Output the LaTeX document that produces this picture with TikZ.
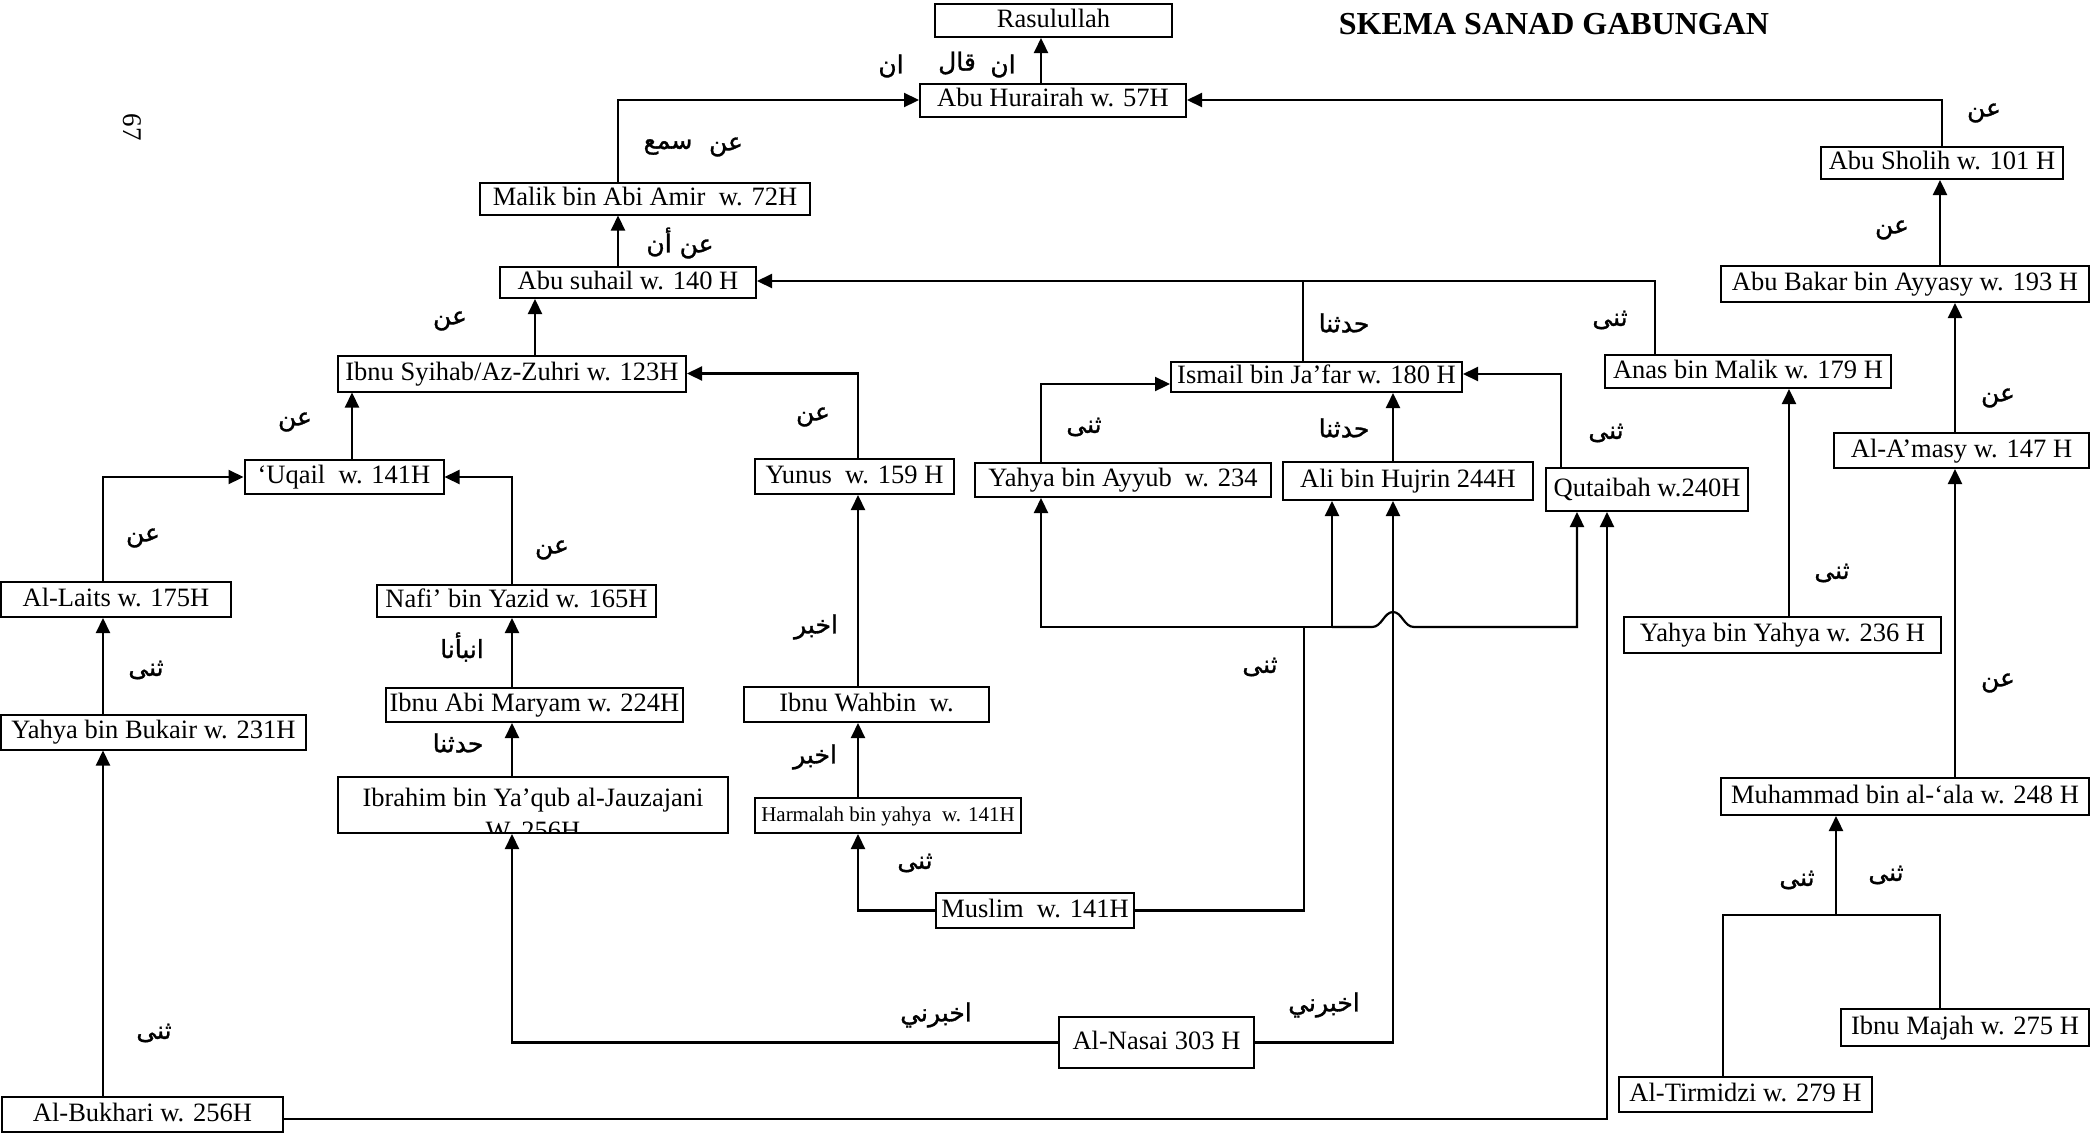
\documentclass[tikz,border=0pt]{standalone}
\usepackage{fontspec}
\setmainfont{Liberation Serif}
\newfontfamily\arabicfont[Script=Arabic,FakeBold=1.2]{DejaVu Sans}
\TeXXeTstate=1
\usetikzlibrary{arrows.meta,calc}
\newcommand{\artxt}[1]{\arabicfont\beginR #1\endR}
\begin{document}
\begin{tikzpicture}[x=1pt,y=-1pt,
  box/.style={draw, line width=2pt, inner sep=0pt, font=\fontsize{26.5}{30}\selectfont, text height=18pt, text depth=5pt},
  sz/.style 2 args={minimum width=#1pt, minimum height=#2pt},
  conn/.style={line width=2.2pt},
  arr/.style={conn, -{Triangle[length=15pt,width=14pt]}},
  lab/.style={inner sep=0pt, font=\fontsize{25}{28}\selectfont}]
\useasboundingbox (0,0) rectangle (2095,1133);

% title and page number
\node[font=\bfseries\fontsize{32}{36}\selectfont] (title) at (1554,24) {SKEMA SANAD GABUNGAN};
\node[font=\fontsize{27}{29}\selectfont, rotate=-90] (pagenum) at (132,127) {67};

% boxes
\node[box, sz={237}{33}] (rasul) at (1053.5,20.5) {Rasulullah};
\node[box, sz={266}{33}] (hurairah) at (1053,100) {Abu Hurairah w. 57H};
\node[box, sz={330}{32}] (malik) at (645,198.5) {Malik bin Abi Amir\ \ w. 72H};
\node[box, sz={256}{31}] (suhail) at (628,282.5) {Abu suhail w. 140 H};
\node[box, sz={348}{36}] (syihab) at (512,373.5) {Ibnu Syihab/Az-Zuhri w. 123H};
\node[box, sz={199}{34}] (uqail) at (344,477) {‘Uqail\ \ w. 141H};
\node[box, sz={230}{35}] (laits) at (116,599.5) {Al-Laits w. 175H};
\node[box, sz={305}{35}] (bukair) at (153.5,732) {Yahya bin Bukair w. 231H};
\node[box, sz={279}{32}] (nafi) at (516.5,601) {Nafi’ bin Yazid w. 165H};
\node[box, sz={297}{34}] (maryam) at (534.5,705) {Ibnu Abi Maryam w. 224H};
\node[box, sz={390}{56}] (ibr) at (533,805) {};
\begin{scope}
  \clip ($(ibr.south west)+(1,-1)$) rectangle ($(ibr.north east)+(-1,1)$);
  \node[font=\fontsize{26.5}{30}\selectfont, anchor=base, inner sep=0pt] (ibrA) at (533,806) {Ibrahim bin Ya’qub al-Jauzajani};
  \node[font=\fontsize{26.5}{30}\selectfont, anchor=base, inner sep=0pt] (ibrB) at (533,839) {W. 256H};
\end{scope}
\node[box, sz={199}{35}] (yunus) at (854.5,476.5) {Yunus\ \ w. 159 H};
\node[box, sz={245}{35}] (wahbin) at (866.5,704.5) {Ibnu Wahbin\ \ w.};
\node[box, sz={266}{35}, font=\fontsize{21}{24}\selectfont, text height=15pt, text depth=4pt] (harmalah) at (888,815.5) {Harmalah bin yahya\ \ w. 141H};
\node[box, sz={198}{35}] (muslim) at (1035,910.5) {Muslim\ \ w. 141H};
\node[box, sz={296}{34}] (ayyub) at (1123,480) {Yahya bin Ayyub\ \ w. 234};
\node[box, sz={250}{38}] (ali) at (1408,481) {Ali bin Hujrin 244H};
\node[box, sz={291}{30}] (ismail) at (1316.5,377) {Ismail bin Ja’far w. 180 H};
\node[box, sz={202}{43}] (qutaibah) at (1647,489.5) {Qutaibah w.240H};
\node[box, sz={286}{33}] (anas) at (1748,371.5) {Anas bin Malik w. 179 H};
\node[box, sz={242}{32}] (sholih) at (1942,163) {Abu Sholih w. 101 H};
\node[box, sz={368}{36}] (bakar) at (1905,284) {Abu Bakar bin Ayyasy w. 193 H};
\node[box, sz={255}{35}] (amasy) at (1961.5,450.5) {Al-A’masy w. 147 H};
\node[box, sz={317}{36}] (yyahya) at (1782.5,635) {Yahya bin Yahya w. 236 H};
\node[box, sz={368}{37}] (muhammad) at (1905,796.5) {Muhammad bin al-‘ala w. 248 H};
\node[box, sz={248}{37}] (majah) at (1965,1027.5) {Ibnu Majah w. 275 H};
\node[box, sz={253}{35}] (tirmidzi) at (1745.5,1094.5) {Al-Tirmidzi w. 279 H};
\node[box, sz={195}{51}] (nasai) at (1156.5,1042.5) {Al-Nasai 303 H};
\node[box, sz={281}{35}] (bukhari) at (142.5,1114.5) {Al-Bukhari w. 256H};

% connectors
\draw[arr] (1041,0 |- hurairah.north) -- (1041,0 |- rasul.south);
\draw[arr] (618,0 |- malik.north) |- (hurairah.west);
\draw[arr] (sholih.north) |- (hurairah.east);
\draw[arr] (618,0 |- suhail.north) -- (618,0 |- malik.south);
\draw[arr] (535,0 |- syihab.north) -- (535,0 |- suhail.south);
\draw[arr] (352,0 |- uqail.north) -- (352,0 |- syihab.south);
\draw[arr] (103,0 |- laits.north) |- (uqail.west);
\draw[arr] (512,0 |- nafi.north) |- (uqail.east);
\draw[arr] (103,0 |- bukair.north) -- (103,0 |- laits.south);
\draw[arr] (512,0 |- maryam.north) -- (512,0 |- nafi.south);
\draw[arr] (512,0 |- ibr.north) -- (512,0 |- maryam.south);
\draw[arr] (103,0 |- bukhari.north) -- (103,0 |- bukair.south);
\draw[arr] (858,0 |- yunus.north) |- (syihab.east);
\draw[arr] (858,0 |- wahbin.north) -- (858,0 |- yunus.south);
\draw[arr] (858,0 |- harmalah.north) -- (858,0 |- wahbin.south);
\draw[arr] (muslim.west) -| (858,0 |- harmalah.south);

\coordinate (mj) at (1304,627);
\coordinate (ja) at (1041,627);
\coordinate (jb) at (1332,627);
\coordinate (bl) at (1372,627);
\coordinate (bt) at (1393,612);
\coordinate (br) at (1414,627);
\coordinate (jq) at (1577,627);
\draw[conn] (muslim.east) -| (mj);
\draw[arr] (mj) -- (ja) -- (1041,0 |- ayyub.south);
\draw[arr] (mj) -- (jb) -- (1332,0 |- ali.south);
\draw[arr] (jb) -- (bl) .. controls (1382,627) and (1384,612) .. (bt) .. controls (1402,612) and (1404,627) .. (br) -- (jq) -- (1577,0 |- qutaibah.south);

\draw[arr] (nasai.west) -| (512,0 |- ibr.south);
\draw[arr] (nasai.east) -| (1393,0 |- ali.south);
\draw[arr] (bukhari.east |- 0,1119) -| (1607,0 |- qutaibah.south);

\draw[arr] (1041,0 |- ayyub.north) |- (ismail.west |- 0,384);
\draw[arr] (1393,0 |- ali.north) -- (1393,0 |- ismail.south);
\draw[arr] (1561,0 |- qutaibah.north) |- (ismail.east |- 0,374);
\draw[arr] (1655,0 |- anas.north) |- (suhail.east |- 0,281);
\draw[conn] (1303,0 |- ismail.north) -- (1303,281);
\draw[arr] (1789,0 |- yyahya.north) -- (1789,0 |- anas.south);
\draw[arr] (1940,0 |- bakar.north) -- (1940,0 |- sholih.south);
\draw[arr] (1955,0 |- amasy.north) -- (1955,0 |- bakar.south);
\draw[arr] (1955,0 |- muhammad.north) -- (1955,0 |- amasy.south);
\coordinate (tm) at (1940,915);
\draw[conn] (1723,0 |- tirmidzi.north) |- (tm) -- (1940,0 |- majah.north);
\coordinate (tj) at (1836,915);
\draw[arr] (tj) -- (1836,0 |- muhammad.south);

% labels
\node[lab] (l1) at (1003,66) {\artxt{ان}};
\node[lab] (l2) at (957,63) {\artxt{قال}};
\node[lab] (l3) at (891,66) {\artxt{ان}};
\node[lab] (l4) at (668,147) {\artxt{سمع}};
\node[lab] (l5) at (726,147) {\artxt{عن}};
\node[lab] (l6) at (680,243) {\artxt{عن أن}};
\node[lab] (l7) at (450,321) {\artxt{عن}};
\node[lab] (l8) at (295,422) {\artxt{عن}};
\node[lab] (l9) at (143,538) {\artxt{عن}};
\node[lab] (l10) at (146,670) {\artxt{ثنى}};
\node[lab] (l11) at (552,550) {\artxt{عن}};
\node[lab] (l12) at (462,647) {\artxt{انبأنا}};
\node[lab] (l13) at (458,743) {\artxt{حدثنا}};
\node[lab] (l14) at (813,417) {\artxt{عن}};
\node[lab] (l15) at (816,627) {\artxt{اخبر}};
\node[lab] (l16) at (815,757) {\artxt{اخبر}};
\node[lab] (l17) at (915,863) {\artxt{ثنى}};
\node[lab] (l18) at (154,1033) {\artxt{ثنى}};
\node[lab] (l19) at (936,1015) {\artxt{اخبرني}};
\node[lab] (l20) at (1324,1005) {\artxt{اخبرني}};
\node[lab] (l21) at (1260,667) {\artxt{ثنى}};
\node[lab] (l22) at (1084,427) {\artxt{ثنى}};
\node[lab] (l23) at (1344,428) {\artxt{حدثنا}};
\node[lab] (l24) at (1344,323) {\artxt{حدثنا}};
\node[lab] (l25) at (1610,320) {\artxt{ثنى}};
\node[lab] (l26) at (1606,433) {\artxt{ثنى}};
\node[lab] (l27) at (1984,113) {\artxt{عن}};
\node[lab] (l28) at (1892,230) {\artxt{عن}};
\node[lab] (l29) at (1998,398) {\artxt{عن}};
\node[lab] (l30) at (1832,573) {\artxt{ثنى}};
\node[lab] (l31) at (1998,683) {\artxt{عن}};
\node[lab] (l32) at (1797,880) {\artxt{ثنى}};
\node[lab] (l33) at (1886,875) {\artxt{ثنى}};
\end{tikzpicture}
\end{document}
